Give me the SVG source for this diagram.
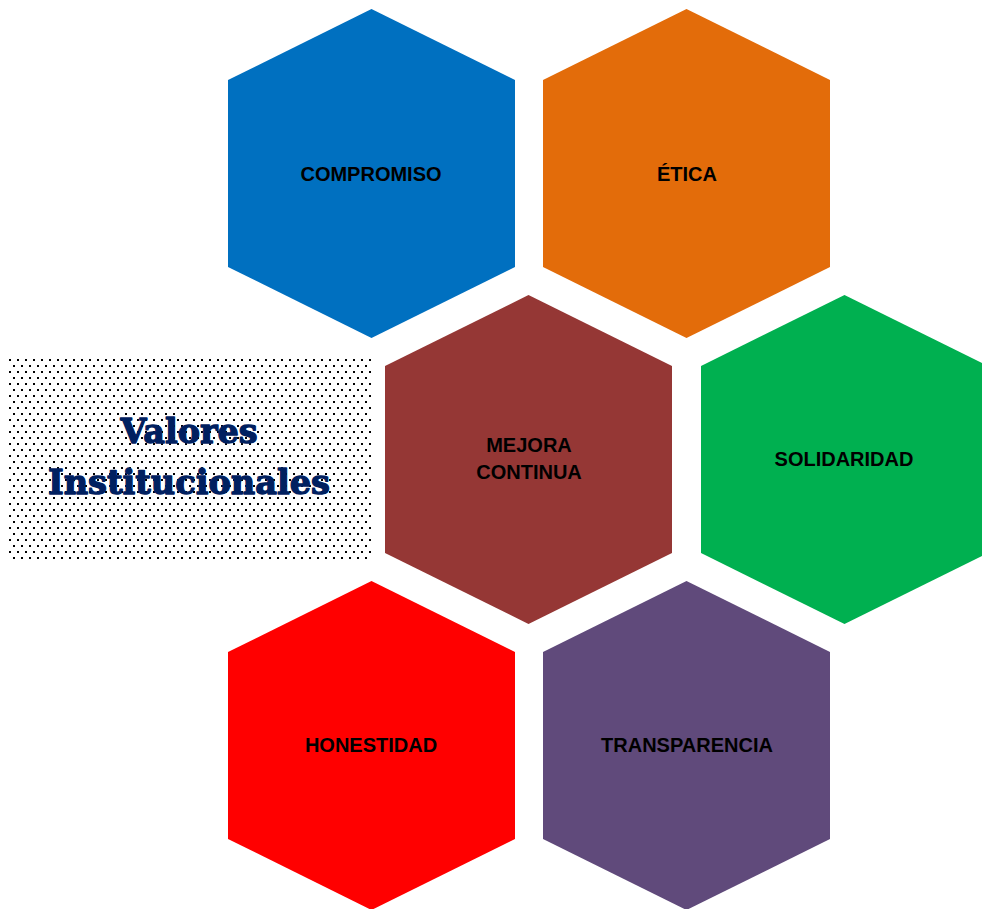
<svg xmlns="http://www.w3.org/2000/svg" xmlns:xlink="http://www.w3.org/1999/xlink" width="982" height="909" viewBox="0 0 982 909">
<style>
.lbl{font-family:"Liberation Sans",Arial,sans-serif;font-weight:bold;font-size:20px;fill:#000;text-anchor:middle}
.title{font-family:"DejaVu Serif","Liberation Serif",serif;font-weight:900;font-size:33px;fill:#002060;stroke:#002060;stroke-width:1.3;stroke-linejoin:round;text-anchor:middle}
</style>
<defs>
<polygon id="hex" points="0,-164.5 143.5,-93.5 143.5,93.5 0,164.5 -143.5,93.5 -143.5,-93.5"/>
<pattern id="dots" x="8" y="358" width="8" height="12" patternUnits="userSpaceOnUse">
<rect x="1" y="1" width="2" height="2" fill="#000"/>
<rect x="5" y="7" width="2" height="2" fill="#000"/>
</pattern>
</defs>
<rect width="982" height="909" fill="#fff"/>
<g id="connectors"/>
<g id="title">
<rect x="8" y="358" width="363" height="203" fill="url(#dots)"/>
<text class="title" x="189" y="443" textLength="137" lengthAdjust="spacingAndGlyphs">Valores</text>
<text class="title" x="189" y="494" textLength="282" lengthAdjust="spacingAndGlyphs">Institucionales</text>
</g>
<g id="compromiso">
<use xlink:href="#hex" href="#hex" transform="translate(371.5,173.5)" fill="#0070C0"/>
<text class="lbl" x="371" y="181">COMPROMISO</text>
</g>
<g id="etica">
<use xlink:href="#hex" href="#hex" transform="translate(686.5,173.5)" fill="#E36C0A"/>
<text class="lbl" x="687" y="181">ÉTICA</text>
</g>
<g id="mejora">
<use xlink:href="#hex" href="#hex" transform="translate(528.5,459.5)" fill="#953735"/>
<text class="lbl" x="529" y="452">MEJORA</text>
<text class="lbl" x="529" y="479">CONTINUA</text>
</g>
<g id="solidaridad">
<use xlink:href="#hex" href="#hex" transform="translate(844.5,459.5)" fill="#00B050"/>
<text class="lbl" x="844" y="466">SOLIDARIDAD</text>
</g>
<g id="honestidad">
<use xlink:href="#hex" href="#hex" transform="translate(371.5,745.5)" fill="#FF0000"/>
<text class="lbl" x="371" y="752">HONESTIDAD</text>
</g>
<g id="transparencia">
<use xlink:href="#hex" href="#hex" transform="translate(686.5,745.5)" fill="#604A7B"/>
<text class="lbl" x="687" y="752">TRANSPARENCIA</text>
</g>
</svg>
